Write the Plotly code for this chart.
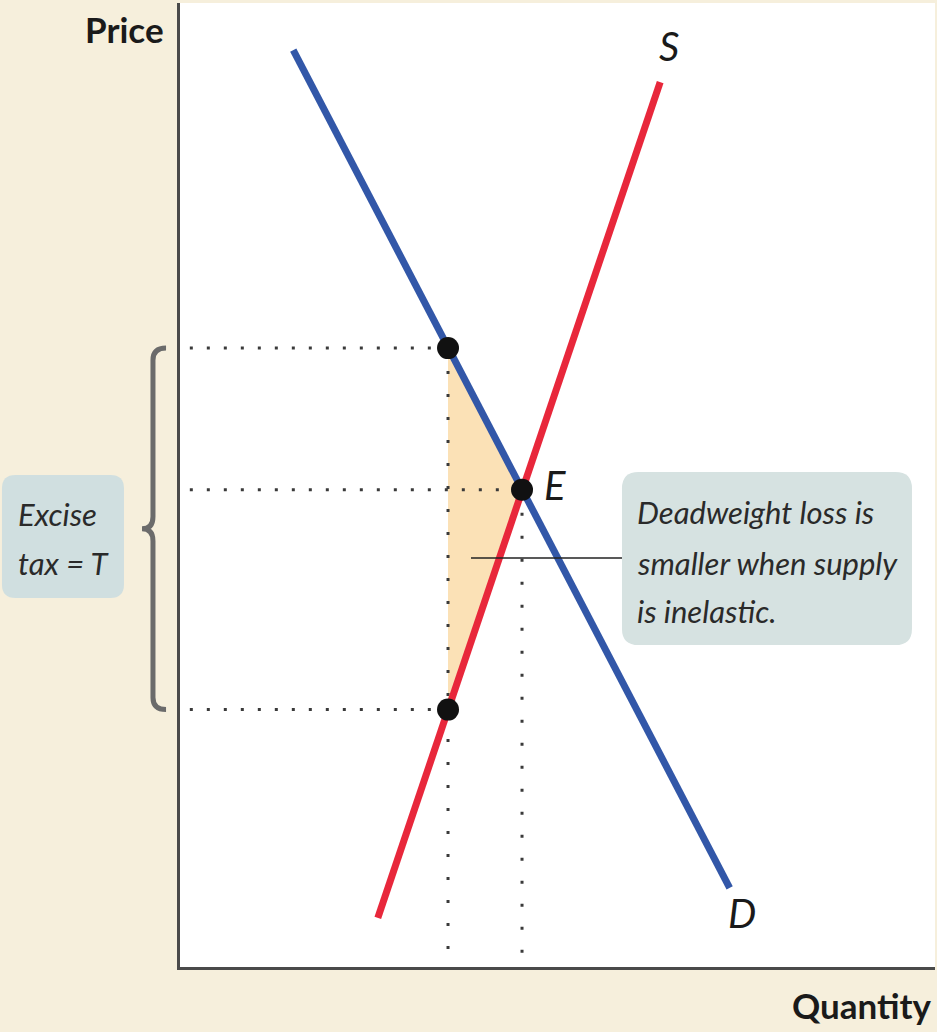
import plotly.graph_objects as go

# Supply and demand diagram for an excise tax with inelastic supply
# Axis units: quantity 0-10, price 0-10

# Demand curve endpoints (quantity, price)
demand_q = [1.50, 7.28]
demand_p = [9.51, 0.82]

# Supply curve endpoints (quantity, price)
supply_q = [2.62, 6.36]
supply_p = [0.51, 9.18]

# Equilibrium and tax wedge
q_eq, p_eq = 4.53, 4.95          # point E
q_tax = 3.55                      # quantity traded with the tax
p_demand = 6.42                   # price paid by consumers
p_supply = 2.67                   # price received by producers

dot_start_q = 0.13
dot_floor_p = 0.145

BLUE = "#3257a8"
RED = "#e8273b"
DOT = "#3a3a3a"
BOX = "#d6e2e1"
BEIGE = "#f6efdc"
FONT = "Lato, Roboto, Liberation Sans, sans-serif"

X_RANGE = [0, 10]
Y_RANGE = [0, 10]


def px(q):
    return (q - X_RANGE[0]) / (X_RANGE[1] - X_RANGE[0])


def py(p):
    return (p - Y_RANGE[0]) / (Y_RANGE[1] - Y_RANGE[0])


fig = go.Figure()

# Deadweight loss triangle
fig.add_trace(go.Scatter(
    x=[q_tax, q_eq, q_tax, q_tax], y=[p_demand, p_eq, p_supply, p_demand],
    mode="lines", fill="toself", fillcolor="#fbe1b6",
    line=dict(width=0), hoverinfo="skip", showlegend=False))

# Dotted guide lines
h_dash = "3px,14px"
v_dash = "3px,20px"
for qe, pe in [(q_tax, p_demand), (q_eq, p_eq), (q_tax, p_supply)]:
    fig.add_trace(go.Scatter(
        x=[dot_start_q, qe], y=[pe, pe], mode="lines",
        line=dict(color=DOT, width=3, dash=h_dash),
        hoverinfo="skip", showlegend=False))
for qe, pe in [(q_tax, p_demand), (q_eq, p_eq)]:
    fig.add_trace(go.Scatter(
        x=[qe, qe], y=[pe, dot_floor_p], mode="lines",
        line=dict(color=DOT, width=3, dash=v_dash),
        hoverinfo="skip", showlegend=False))

# Demand and supply curves
fig.add_trace(go.Scatter(x=demand_q, y=demand_p, mode="lines",
                         line=dict(color=BLUE, width=7), showlegend=False))
fig.add_trace(go.Scatter(x=supply_q, y=supply_p, mode="lines",
                         line=dict(color=RED, width=7), showlegend=False))

# Key points
fig.add_trace(go.Scatter(
    x=[q_tax, q_eq, q_tax], y=[p_demand, p_eq, p_supply], mode="markers",
    marker=dict(color="#111111", size=22), showlegend=False))

shapes = []

# Callout box and pointer line
bx0, bx1, by0, by1 = 0.5854, 0.9695, 0.3340, 0.5135
rx, ry = 0.022, 0.017


def rounded(x0, x1, y0, y1, rx, ry):
    return (f"M {x0+rx},{y0} L {x1-rx},{y0} Q {x1},{y0} {x1},{y0+ry} "
            f"L {x1},{y1-ry} Q {x1},{y1} {x1-rx},{y1} L {x0+rx},{y1} "
            f"Q {x0},{y1} {x0},{y1-ry} L {x0},{y0+ry} Q {x0},{y0} {x0+rx},{y0} Z")


shapes.append(dict(type="path", xref="paper", yref="paper",
                   path=rounded(bx0, bx1, by0, by1, rx, ry),
                   fillcolor=BOX, line=dict(width=0), layer="above"))
shapes.append(dict(type="line", xref="paper", yref="paper",
                   x0=0.3854, x1=bx0, y0=0.4243, y1=0.4243,
                   line=dict(color="#222222", width=1.5), layer="above"))

# Excise tax box (left margin)
shapes.append(dict(type="path", xref="paper", yref="paper",
                   path=rounded(-0.2358, -0.0742, 0.3828, 0.5104, 0.018, 0.014),
                   fillcolor="#d0dfe0", line=dict(width=0), layer="above"))

# Curly brace spanning the tax wedge
top, bot = py(p_demand), py(p_supply)
mid = (top + bot) / 2
xe, xs, xt = -0.0185, -0.0358, -0.0503
d = 0.0125
brace = (f"M {xe},{top} Q {xs},{top} {xs},{top-d} L {xs},{mid+d} "
         f"Q {xs},{mid} {xt},{mid} Q {xs},{mid} {xs},{mid-d} "
         f"L {xs},{bot+d} Q {xs},{bot} {xe},{bot}")
shapes.append(dict(type="path", xref="paper", yref="paper", path=brace,
                   line=dict(color="#6b6b6b", width=5), layer="above"))

annotations = []


def label(text, x, y, size, xanchor="center", italic=True, bold=False, color="#1a1a1a"):
    annotations.append(dict(
        text=text, x=x, y=y, xref="paper", yref="paper",
        xanchor=xanchor, yanchor="middle", showarrow=False,
        font=dict(family=FONT, size=size, color=color,
                  style="italic" if italic else "normal",
                  weight="bold" if bold else "normal")))


label("Price", -0.019, 0.9735, 35, xanchor="right", italic=False, bold=True)
label("Quantity", 0.999, -0.039, 35, xanchor="right", italic=False, bold=True)
label("S", 0.648, 0.955, 40)
label("D", 0.744, 0.056, 40)
label("E", 0.497, 0.5, 40)

label("Deadweight loss is", 0.603, 0.4720, 31, xanchor="left", color="#2a2a2a")
label("smaller when supply", 0.603, 0.4194, 31, xanchor="left", color="#2a2a2a")
label("is inelastic.", 0.603, 0.3697, 31, xanchor="left", color="#2a2a2a")

label("Excise", -0.217, 0.4700, 31, xanchor="left", color="#2a2a2a")
label("tax = T", -0.217, 0.4195, 31, xanchor="left", color="#2a2a2a")

fig.update_layout(
    width=937, height=1032,
    margin=dict(l=180, r=2, t=3, b=65),
    paper_bgcolor=BEIGE, plot_bgcolor="white",
    shapes=shapes, annotations=annotations,
    xaxis=dict(range=X_RANGE, showgrid=False, zeroline=False,
               showticklabels=False, ticks="", showline=True,
               linecolor="#4a4a4a", linewidth=2.5, fixedrange=True),
    yaxis=dict(range=Y_RANGE, showgrid=False, zeroline=False,
               showticklabels=False, ticks="", showline=True,
               linecolor="#4a4a4a", linewidth=2.5, fixedrange=True),
    showlegend=False,
)

fig.write_html("out.html")
